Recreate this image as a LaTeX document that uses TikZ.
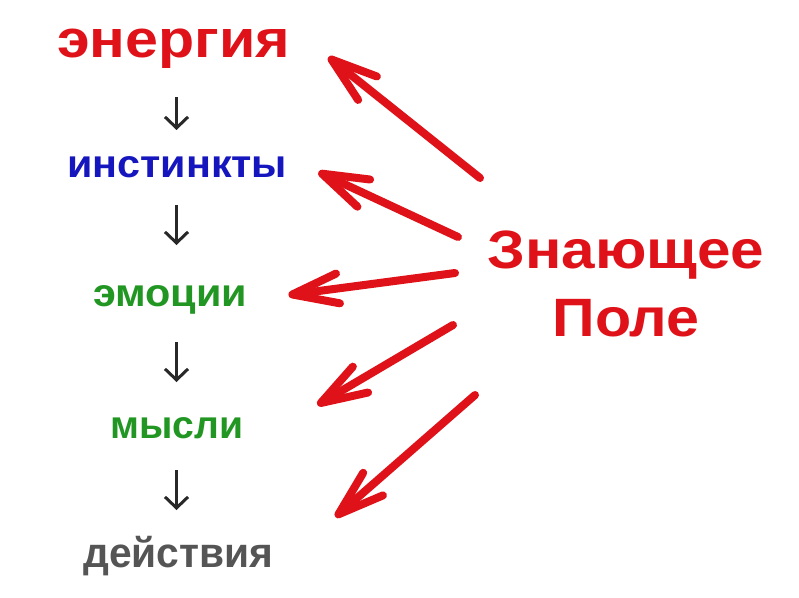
\documentclass[tikz,border=0pt]{standalone}
\usepackage{fontspec}
\usepackage{graphicx}
\setmainfont{Liberation Sans}
\usetikzlibrary{arrows.meta}
\definecolor{redword}{RGB}{222,18,24}
\definecolor{blueword}{RGB}{22,22,190}
\definecolor{greenword}{RGB}{34,150,34}
\definecolor{grayword}{RGB}{85,85,85}
\definecolor{arrowgray}{RGB}{40,40,40}
\newcommand{\fitw}[2]{\resizebox{#1}{\height}{#2}}

\begin{document}
\begin{tikzpicture}[x=1pt,y=1pt,
    word/.style={inner sep=0pt,anchor=base west,font=\bfseries\fontsize{39}{42}\selectfont},
    down/.style={draw=arrowgray,line width=3pt,-{Straight Barb[length=11pt,width=23pt]}},
    ray/.style={draw=redword,line width=8pt,line cap=round,-{Straight Barb[length=46pt,width=30pt,round]}}]
        \useasboundingbox (0,0) rectangle (799,-597);
        \begin{scope}[shift={(0,0)}]
          \node[word,text=redword,font=\bfseries\fontsize{53}{56}\selectfont] (energy) at (57,-57) {\fitw{233pt}{энергия}};
          \node[word,text=blueword] (instinct) at (67,-177) {\fitw{220pt}{инстинкты}};
          \node[word,text=greenword] (emotion) at (93,-306) {\fitw{154pt}{эмоции}};
          \node[word,text=greenword] (thought) at (110,-438) {\fitw{133pt}{мысли}};
          \node[word,text=grayword,font=\bfseries\fontsize{42}{44}\selectfont] (action) at (83,-567) {\fitw{190pt}{действия}};
          \coordinate (axis) at (176.5,0);
          \draw[down,shorten <=40pt,shorten >=47pt] (energy.base -| axis) -- (instinct.base -| axis);
          \draw[down,shorten <=28pt,shorten >=61pt] (instinct.base -| axis) -- (emotion.base -| axis);
          \draw[down,shorten <=36pt,shorten >=56pt] (emotion.base -| axis) -- (thought.base -| axis);
          \draw[down,shorten <=32pt,shorten >=57pt] (thought.base -| axis) -- (action.base -| axis);
        \end{scope}
        %%
        \begin{scope}[shift={(0,0)}]
          \node[inner sep=0pt,align=center,text=redword,font=\bfseries\fontsize{54}{68}\selectfont] (field) at (626,-284) {\fitw{277pt}{Знающее}\\\fitw{147pt}{Поле}};
          \coordinate (s1) at (480,-178);
          \coordinate (s2) at (458,-237);
          \coordinate (s3) at (455,-273);
          \coordinate (s4) at (453,-325);
          \coordinate (s5) at (475,-395);
          \draw[ray] (s1) -- ([shift={(38,0)}]energy.base east);
          \draw[ray] (s2) -- ([shift={(31,5)}]instinct.base east);
          \draw[ray] (s3) -- ([shift={(41,11)}]emotion.base east);
          \draw[ray] (s4) -- ([shift={(74,33)}]thought.base east);
          \draw[ray] (s5) -- ([shift={(62,50)}]action.base east);
        \end{scope}
    \end{tikzpicture}
\end{document}
